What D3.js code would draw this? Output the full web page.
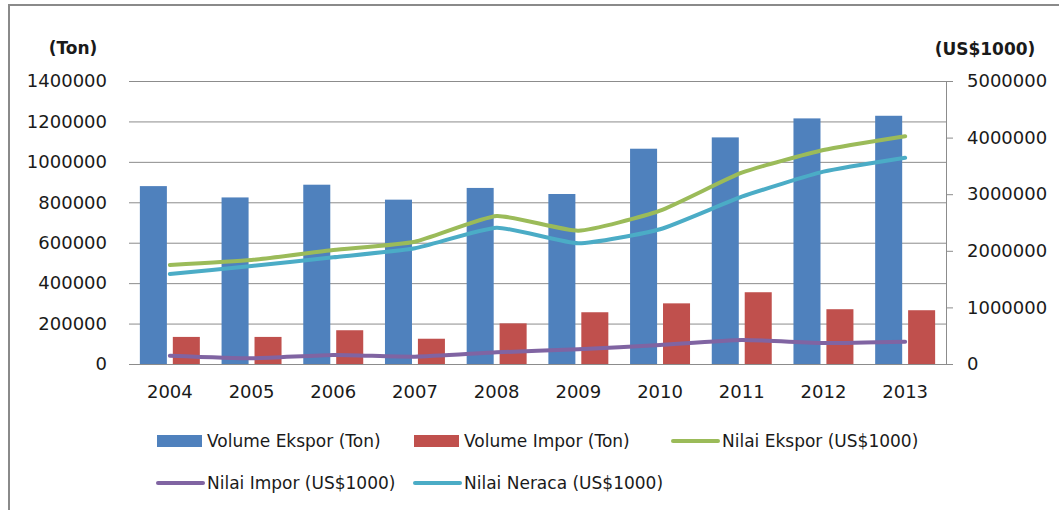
<!DOCTYPE html>
<meta charset="utf-8">
<script src="https://d3js.org/d3.v7.min.js"></script>
<style>
  body { margin: 0; background: #fff; }
  text { font-family: "DejaVu Sans", sans-serif; fill: #1a1a1a; }
</style>
<div id="my_dataviz"></div>
<script>

  // data
  var years = ["2004", "2005", "2006", "2007", "2008", "2009", "2010", "2011", "2012", "2013"];
  var volumeEkspor = [880000, 824000, 887000, 813000, 871000, 841000, 1065000, 1121000, 1215000, 1228000];
  var volumeImpor  = [134000, 134000, 167000, 125000, 201000, 256000, 300000, 355000, 271000, 266000];
  var nilaiEkspor  = [1749000, 1837000, 2014000, 2161000, 2615000, 2355000, 2709000, 3380000, 3781000, 4025000];
  var nilaiImpor   = [147000, 100000, 159000, 129000, 206000, 260000, 336000, 424000, 371000, 394000];
  var nilaiNeraca  = [1590000, 1731000, 1885000, 2044000, 2408000, 2132000, 2380000, 2956000, 3398000, 3645000];
  var leftTicks  = [0, 200000, 400000, 600000, 800000, 1000000, 1200000, 1400000];
  var rightTicks = [0, 1000000, 2000000, 3000000, 4000000, 5000000];

  var width = 1059, height = 510;
  var plot = {left: 129, right: 946, top: 81, bottom: 364};

  var svg = d3.select("#my_dataviz")
    .append("svg")
      .attr("width", width)
      .attr("height", height);

  // outer frame
  svg.append("rect")
    .attr("x", 9).attr("y", 5)
    .attr("width", 1070).attr("height", 530)
    .attr("fill", "none")
    .attr("stroke", "#8a8a8a")
    .attr("stroke-width", 2);

  // scales
  var x0 = d3.scaleBand().domain(years).range([plot.left, plot.right]);
  var x1 = d3.scaleBand().domain(["ekspor", "impor"])
    .range([x0.bandwidth() * 0.133, x0.bandwidth() * 0.867])
    .paddingInner(0.18);
  var yL = d3.scaleLinear().domain([0, 1400000]).range([plot.bottom, plot.top]);
  var yR = d3.scaleLinear().domain([0, 5000000]).range([plot.bottom, plot.top]);

  // gridlines
  svg.append("g")
    .attr("transform", "translate(" + plot.left + ",0)")
    .call(d3.axisLeft(yL).tickValues(leftTicks).tickSize(-(plot.right - plot.left)).tickFormat(""))
    .call(function (g) { g.select(".domain").remove(); })
    .selectAll("line").attr("stroke", "#8c8c8c");

  // left axis labels
  svg.append("g")
    .attr("transform", "translate(" + plot.left + ",0)")
    .call(d3.axisLeft(yL).tickValues(leftTicks).tickSize(0).tickPadding(22).tickFormat(d3.format("d")))
    .call(function (g) { g.select(".domain").remove(); })
    .selectAll("text").style("font-size", "18px").attr("fill", "#1a1a1a");

  // right axis
  var ra = svg.append("g")
    .attr("transform", "translate(" + plot.right + ",0)")
    .call(d3.axisRight(yR).tickValues(rightTicks).tickSizeOuter(0).tickSizeInner(7).tickPadding(14).tickFormat(d3.format("d")));
  ra.select(".domain").attr("stroke", "#8c8c8c");
  ra.selectAll("line").attr("stroke", "#8c8c8c");
  ra.selectAll("text").style("font-size", "18px").attr("fill", "#1a1a1a");

  // bottom axis
  var ba = svg.append("g")
    .attr("transform", "translate(0," + plot.bottom + ")")
    .call(d3.axisBottom(x0).tickSize(0).tickSizeOuter(0).tickPadding(21));
  ba.select(".domain").attr("stroke", "#8c8c8c");
  ba.selectAll("text").style("font-size", "18px").attr("fill", "#1a1a1a");

  // axis titles
  svg.append("text").attr("x", 73).attr("y", 54).attr("text-anchor", "middle")
    .style("font-size", "17px").style("font-weight", "bold").text("(Ton)");
  svg.append("text").attr("x", 985).attr("y", 55).attr("text-anchor", "middle")
    .style("font-size", "17px").style("font-weight", "bold").text("(US$1000)");

  // bars
  var barSeries = [
    {key: "ekspor", values: volumeEkspor, color: "#4f81bd"},
    {key: "impor", values: volumeImpor, color: "#c0504d"}
  ];
  barSeries.forEach(function (s) {
    svg.append("g").selectAll("rect")
      .data(s.values)
      .enter()
      .append("rect")
        .attr("x", function (d, i) { return x0(years[i]) + x1(s.key); })
        .attr("y", function (d) { return yL(d); })
        .attr("width", x1.bandwidth())
        .attr("height", function (d) { return plot.bottom - yL(d); })
        .attr("fill", s.color);
  });

  // lines (smoothed like the spreadsheet, but tighter)
  var lineSeries = [
    {values: nilaiImpor, color: "#8064a2"},
    {values: nilaiNeraca, color: "#4bacc6"},
    {values: nilaiEkspor, color: "#9bbb59"}
  ];
  var line = d3.line()
    .x(function (d, i) { return x0(years[i]) + x0.bandwidth() / 2; })
    .y(function (d) { return yR(d); })
    .curve(d3.curveCardinal.tension(0.5));
  lineSeries.forEach(function (s) {
    svg.append("path")
      .datum(s.values)
      .attr("d", line)
      .attr("fill", "none")
      .attr("stroke", s.color)
      .attr("stroke-width", 4)
      .attr("stroke-linecap", "round")
      .attr("stroke-linejoin", "round");
  });

  // legend
  var legendItems = [
    {label: "Volume Ekspor (Ton)", color: "#4f81bd", type: "rect", x: 157, y: 441},
    {label: "Volume Impor (Ton)", color: "#c0504d", type: "rect", x: 414, y: 441},
    {label: "Nilai Ekspor (US$1000)", color: "#9bbb59", type: "line", x: 672, y: 441},
    {label: "Nilai Impor (US$1000)", color: "#8064a2", type: "line", x: 157, y: 483},
    {label: "Nilai Neraca (US$1000)", color: "#4bacc6", type: "line", x: 414, y: 483}
  ];
  var lg = svg.append("g").selectAll("g")
    .data(legendItems)
    .enter()
    .append("g")
      .attr("transform", function (d) { return "translate(" + d.x + "," + d.y + ")"; });
  lg.filter(function (d) { return d.type === "rect"; })
    .append("rect")
      .attr("x", 0).attr("y", -6).attr("width", 45).attr("height", 12)
      .attr("fill", function (d) { return d.color; });
  lg.filter(function (d) { return d.type === "line"; })
    .append("line")
      .attr("x1", 1).attr("x2", 46).attr("y1", 0).attr("y2", 0)
      .attr("stroke", function (d) { return d.color; })
      .attr("stroke-width", 4)
      .attr("stroke-linecap", "round");
  lg.append("text")
    .attr("x", 50).attr("y", 0).attr("dy", "0.35em")
    .style("font-size", "17px")
    .text(function (d) { return d.label; });

</script>
